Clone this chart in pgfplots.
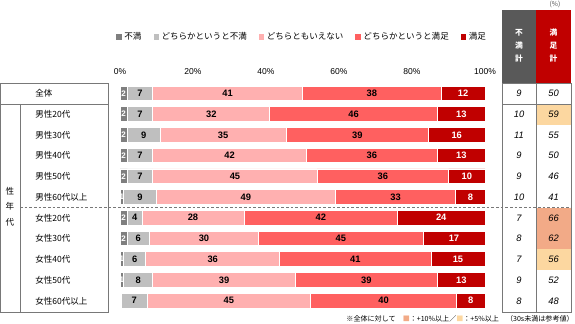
\documentclass[border=0pt]{standalone}
\usepackage{pgfplots}
\pgfplotsset{compat=1.18}
\usepackage{fontspec}
\setmainfont{Liberation Sans}
\newfontfamily\jp{Noto Sans CJK JP}
\newcommand\fs[1]{\fontsize{#1}{#1}\selectfont}
\definecolor{cA}{RGB}{127,127,127}
\definecolor{cB}{RGB}{191,191,191}
\definecolor{cC}{RGB}{255,176,176}
\definecolor{cD}{RGB}{255,96,96}
\definecolor{cE}{RGB}{192,0,0}
\definecolor{hg}{RGB}{89,89,89}
\definecolor{tg}{RGB}{120,120,120}
\definecolor{hiA}{RGB}{242,170,135}
\definecolor{hiB}{RGB}{252,215,160}
\begin{document}
\begin{tikzpicture}
\useasboundingbox (0,0) rectangle (431.25pt,-243pt);
\begin{axis}[
  at={(90pt,-233.25pt)}, anchor=south west,
  scale only axis, width=273.75pt, height=171pt,
  xbar stacked, bar width=11pt,
  xmin=0, xmax=100, ymin=-0.5, ymax=10.5, y dir=reverse,
  axis line style={draw=none}, ytick=\empty,
  xtick={0,20,40,60,80,100},
  xticklabel={\pgfmathprintnumber{\tick}\%},
  xticklabel pos=upper, major tick length=0pt,
  /pgf/number format/assume math mode=true,
  tick label style={font=\fs{6.4}},
  xticklabel style={yshift=3pt},
  point meta=explicit symbolic,
  nodes near coords,
  every node near coord/.append style={font=\fs{7}\bfseries, inner sep=0pt},
  legend style={at={(0.5,1.202)}, anchor=center, draw=none, fill=none,
    font=\jp\fs{6.4}, legend columns=-1,
    /tikz/every even column/.append style={column sep=7pt}},
  legend image code/.code={\fill[#1,draw=none] (0pt,-2pt) rectangle (4pt,2pt);},
  clip=false,
]
\addplot[fill=cA, draw=white, line width=0.6pt, every node near coord/.append style={text=white, font=\fs{6}\bfseries}] coordinates {
(2,0)[2] (2,1)[2] (2,2)[2] (2,3)[2] (2,4)[2] (1,5)[1] (2,6)[2] (2,7)[2] (1,8)[1] (1,9)[1] (0.4,10)[]};
\addplot[fill=cB, draw=white, line width=0.6pt] coordinates {
(7,0)[7] (7,1)[7] (9,2)[9] (7,3)[7] (7,4)[7] (9,5)[9] (4,6)[4] (6,7)[6] (6,8)[6] (8,9)[8] (7,10)[7]};
\addplot[fill=cC, draw=white, line width=0.6pt] coordinates {
(41,0)[41] (32,1)[32] (34.5,2)[35] (42,3)[42] (45,4)[45] (49,5)[49] (28,6)[28] (30,7)[30] (36.8,8)[36] (39,9)[39] (44.8,10)[45]};
\addplot[fill=cD, draw=white, line width=0.6pt] coordinates {
(38,0)[38] (46,1)[46] (39,2)[39] (36,3)[36] (36,4)[36] (33,5)[33] (42,6)[42] (45,7)[45] (41.4,8)[41] (39,9)[39] (40,10)[40]};
\addplot[fill=cE, draw=white, line width=0.6pt, every node near coord/.append style={text=white}] coordinates {
(12,0)[12] (13,1)[13] (15.5,2)[16] (13,3)[13] (10,4)[10] (8,5)[8] (24,6)[24] (17,7)[17] (14.8,8)[15] (13,9)[13] (7.8,10)[8]};
\legend{不満,どちらかというと不満,どちらともいえない,どちらかというと満足,満足}
\end{axis}
\begin{scope}[x=0.75pt,y=-0.75pt]
% highlight cells
\fill[hiB] (536,103.9) rectangle (571,124.6);
\fill[hiA] (536,207.6) rectangle (571,228.4);
\fill[hiA] (536,228.4) rectangle (571,249.1);
\fill[hiB] (536,249.1) rectangle (571,269.9);
% header
\fill[hg] (502,10) rectangle (536,83);
\fill[cE] (536,10) rectangle (571,83);
\foreach \c/\yy in {不/33,満/46,計/59}{\node[text=white,font=\jp\bfseries\fs{5.8}] at (519,\yy) {\c};}
\foreach \c/\yy in {満/33,足/46,計/59}{\node[text=white,font=\jp\bfseries\fs{5.8}] at (553.5,\yy) {\c};}
\node[font=\jp\fs{5}, text=black!70] at (555,4) {(\%)};
% left table
\draw[tg, line width=0.6pt] (0,83) rectangle (108,312);
\draw[tg, line width=0.6pt] (0,104) -- (108,104);
\draw[tg, line width=0.6pt] (20,104) -- (20,312);
\draw[tg, line width=0.6pt, dash pattern=on 2pt off 1.5pt] (20,207.6) -- (571,207.6);
% right table
\draw[tg, line width=0.6pt] (502,83) rectangle (571,312);
\draw[tg, line width=0.6pt] (536,83) -- (536,312);
\draw[tg, line width=0.6pt] (502,104) -- (571,104);
\foreach \lab [count=\i from 0] in {全体,男性20代,男性30代,男性40代,男性50代,男性60代以上,女性20代,女性30代,女性40代,女性50代,女性60代以上}{
  \node[anchor=west, font=\jp\fs{6.4}, inner sep=0pt] at (35,93.5+20.75*\i) {\lab};
}
\foreach \v [count=\i from 0] in {9,10,11,9,9,10,7,8,7,9,8}{
  \node[font=\itshape\fs{7}] at (519,93.5+20.75*\i) {\v};
}
\foreach \v [count=\i from 0] in {50,59,55,50,46,41,66,62,56,52,48}{
  \node[font=\itshape\fs{7}] at (553.5,93.5+20.75*\i) {\v};
}
\node[font=\jp\fs{6.4}] at (10,191) {性};
\node[font=\jp\fs{6.4}] at (10,206.5) {年};
\node[font=\jp\fs{6.4}] at (10,222) {代};
\node[anchor=east, font=\jp\fs{5.3}, inner sep=0pt] at (574,319) {※全体に対して\quad{\color{hiA}■}：+10\%以上／{\color{hiB}■}：+5\%以上\quad（30s未満は参考値）};
\end{scope}
\end{tikzpicture}
\end{document}
